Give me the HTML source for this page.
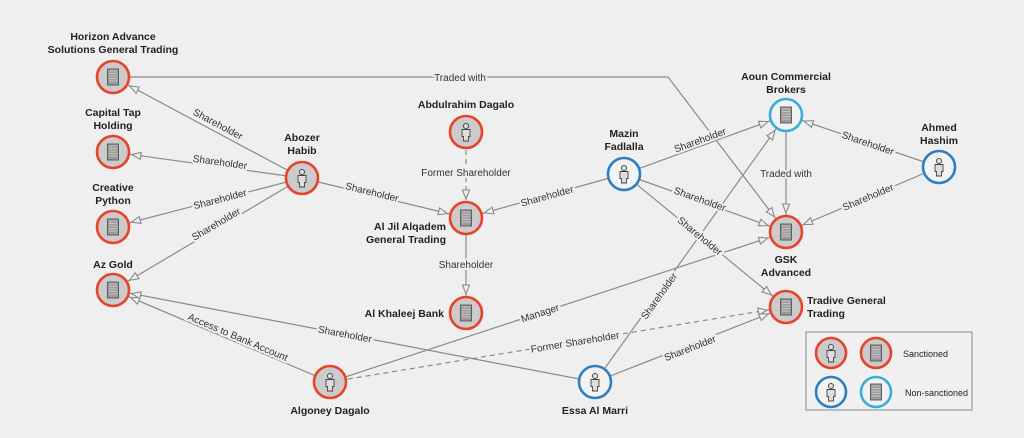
<!DOCTYPE html>
<html><head><meta charset="utf-8"><style>
html,body{margin:0;padding:0;background:#efefef;}
svg{display:block;}
.e{stroke:#8a8a8a;stroke-width:1.2;fill:none;}
.d{stroke-dasharray:5,4;}
.l{font-family:"Liberation Sans",sans-serif;font-size:10px;fill:#333;text-anchor:middle;stroke:#efefef;stroke-width:4;paint-order:stroke;}
.n{font-family:"Liberation Sans",sans-serif;font-size:10.5px;font-weight:bold;fill:#222;text-anchor:middle;}
.sr{fill:#cbcbcb;stroke:#e8432a;stroke-width:2.6;}
.nb{fill:#f2f2f2;stroke:#2e7fc1;stroke-width:2.6;}
.nl{fill:#f2f2f2;stroke:#3aaed8;stroke-width:2.6;}
</style></head><body>
<svg width="1024" height="438" viewBox="0 0 1024 438" xmlns="http://www.w3.org/2000/svg">
<defs>
<marker id="a" markerUnits="userSpaceOnUse" markerWidth="60" markerHeight="60" refX="19" refY="0" orient="auto" overflow="visible">
<path d="M-9,-3.5 L0,0 L-9,3.5 Z" fill="#efefef" stroke="#8a8a8a" stroke-width="1.1" stroke-dasharray="none"/>
</marker>
<g id="bld"><rect x="-5.5" y="-8" width="11" height="16" fill="#9a9a9a" stroke="#555" stroke-width="0.9"/>
<path d="M-3.5,-6h7M-3.5,-3.5h7M-3.5,-1h7M-3.5,1.5h7M-3.5,4h7" stroke="#eee" stroke-width="1" stroke-dasharray="1,1"/></g>
<g id="per"><circle cx="0" cy="-6" r="2.6" fill="#ddd" stroke="#444" stroke-width="0.9"/>
<path d="M-4,-2.5h8v7h-1.5v4.5h-5v-4.5h-1.5z" fill="#ddd" stroke="#444" stroke-width="0.9"/></g>
</defs>
<rect width="1024" height="438" fill="#efefef"/>

<polyline class="e" points="113,77 668,77 786,232" marker-end="url(#a)"/>
<line class="e" x1="302" y1="178" x2="113" y2="77" marker-end="url(#a)"/>
<line class="e" x1="302" y1="178" x2="113" y2="152" marker-end="url(#a)"/>
<line class="e" x1="302" y1="178" x2="113" y2="227" marker-end="url(#a)"/>
<line class="e" x1="302" y1="178" x2="113" y2="290" marker-end="url(#a)"/>
<line class="e" x1="302" y1="178" x2="466" y2="218" marker-end="url(#a)"/>
<line class="e d" x1="466" y1="132" x2="466" y2="218" marker-end="url(#a)"/>
<line class="e" x1="466" y1="218" x2="466" y2="313" marker-end="url(#a)"/>
<line class="e" x1="624" y1="174" x2="466" y2="218" marker-end="url(#a)"/>
<line class="e" x1="624" y1="174" x2="786" y2="115" marker-end="url(#a)"/>
<line class="e" x1="624" y1="174" x2="786" y2="232" marker-end="url(#a)"/>
<line class="e" x1="624" y1="174" x2="786" y2="307" marker-end="url(#a)"/>
<line class="e" x1="786" y1="115" x2="786" y2="232" marker-end="url(#a)"/>
<line class="e" x1="939" y1="167" x2="786" y2="115" marker-end="url(#a)"/>
<line class="e" x1="939" y1="167" x2="786" y2="232" marker-end="url(#a)"/>
<line class="e" x1="330" y1="382" x2="113" y2="290" marker-end="url(#a)"/>
<line class="e" x1="330" y1="382" x2="786" y2="232" marker-end="url(#a)"/>
<line class="e d" x1="330" y1="382" x2="786" y2="307" marker-end="url(#a)"/>
<line class="e" x1="595" y1="382" x2="113" y2="290" marker-end="url(#a)"/>
<line class="e" x1="595" y1="382" x2="786" y2="115" marker-end="url(#a)"/>
<line class="e" x1="595" y1="382" x2="786" y2="307" marker-end="url(#a)"/>

<text class="l" x="460" y="81">Traded with</text>
<text class="l" transform="translate(218,124) rotate(28)" y="3.5">Shareholder</text>
<text class="l" transform="translate(220,162) rotate(7.8)" y="3.5">Shareholder</text>
<text class="l" transform="translate(220,199) rotate(-14.5)" y="3.5">Shareholder</text>
<text class="l" transform="translate(216,224) rotate(-30.6)" y="3.5">Shareholder</text>
<text class="l" transform="translate(372,192) rotate(13.8)" y="3.5">Shareholder</text>
<text class="l" x="466" y="176">Former Shareholder</text>
<text class="l" x="466" y="268">Shareholder</text>
<text class="l" transform="translate(547,196) rotate(-15.5)" y="3.5">Shareholder</text>
<text class="l" transform="translate(700,140) rotate(-20)" y="3.5">Shareholder</text>
<text class="l" transform="translate(700,199) rotate(19.7)" y="3.5">Shareholder</text>
<text class="l" transform="translate(700,236) rotate(39.4)" y="3.5">Shareholder</text>
<text class="l" x="786" y="177">Traded with</text>
<text class="l" transform="translate(868,143) rotate(18.8)" y="3.5">Shareholder</text>
<text class="l" transform="translate(868,197) rotate(-23)" y="3.5">Shareholder</text>
<text class="l" transform="translate(238,337) rotate(23)" y="3.5">Access to Bank Account</text>
<text class="l" transform="translate(540,313) rotate(-18.2)" y="3.5">Manager</text>
<text class="l" transform="translate(575,342) rotate(-9.3)" y="3.5">Former Shareholder</text>
<text class="l" transform="translate(345,334) rotate(10.8)" y="3.5">Shareholder</text>
<text class="l" transform="translate(659,296) rotate(-54.4)" y="3.5">Shareholder</text>
<text class="l" transform="translate(690,348) rotate(-21.4)" y="3.5">Shareholder</text>

<g transform="translate(113,77)"><circle r="16" class="sr"/><use href="#bld"/></g>
<g transform="translate(113,152)"><circle r="16" class="sr"/><use href="#bld"/></g>
<g transform="translate(113,227)"><circle r="16" class="sr"/><use href="#bld"/></g>
<g transform="translate(113,290)"><circle r="16" class="sr"/><use href="#bld"/></g>
<g transform="translate(302,178)"><circle r="16" class="sr"/><use href="#per"/></g>
<g transform="translate(466,132)"><circle r="16" class="sr"/><use href="#per"/></g>
<g transform="translate(466,218)"><circle r="16" class="sr"/><use href="#bld"/></g>
<g transform="translate(466,313)"><circle r="16" class="sr"/><use href="#bld"/></g>
<g transform="translate(624,174)"><circle r="16" class="nb"/><use href="#per"/></g>
<g transform="translate(786,115)"><circle r="16" class="nl"/><use href="#bld"/></g>
<g transform="translate(939,167)"><circle r="16" class="nb"/><use href="#per"/></g>
<g transform="translate(786,232)"><circle r="16" class="sr"/><use href="#bld"/></g>
<g transform="translate(786,307)"><circle r="16" class="sr"/><use href="#bld"/></g>
<g transform="translate(330,382)"><circle r="16" class="sr"/><use href="#per"/></g>
<g transform="translate(595,382)"><circle r="16" class="nb"/><use href="#per"/></g>

<text class="n" x="113" y="40">Horizon Advance</text>
<text class="n" x="113" y="53">Solutions General Trading</text>
<text class="n" x="113" y="116">Capital Tap</text>
<text class="n" x="113" y="129">Holding</text>
<text class="n" x="113" y="191">Creative</text>
<text class="n" x="113" y="204">Python</text>
<text class="n" x="113" y="268">Az Gold</text>
<text class="n" x="302" y="141">Abozer</text>
<text class="n" x="302" y="154">Habib</text>
<text class="n" x="466" y="108">Abdulrahim Dagalo</text>
<text class="n" x="446" y="230" style="text-anchor:end">Al Jil Alqadem</text>
<text class="n" x="446" y="243" style="text-anchor:end">General Trading</text>
<text class="n" x="444" y="317" style="text-anchor:end">Al Khaleej Bank</text>
<text class="n" x="624" y="137">Mazin</text>
<text class="n" x="624" y="150">Fadlalla</text>
<text class="n" x="786" y="80">Aoun Commercial</text>
<text class="n" x="786" y="93">Brokers</text>
<text class="n" x="939" y="131">Ahmed</text>
<text class="n" x="939" y="144">Hashim</text>
<text class="n" x="786" y="263">GSK</text>
<text class="n" x="786" y="276">Advanced</text>
<text class="n" x="807" y="304" style="text-anchor:start">Tradive General</text>
<text class="n" x="807" y="317" style="text-anchor:start">Trading</text>
<text class="n" x="330" y="414">Algoney Dagalo</text>
<text class="n" x="595" y="414">Essa Al Marri</text>

<rect x="806" y="332" width="166" height="78" fill="#f0f0f0" stroke="#8a8a8a" stroke-width="1"/>
<g transform="translate(831,353)"><circle r="15" class="sr"/><use href="#per"/></g>
<g transform="translate(876,353)"><circle r="15" class="sr"/><use href="#bld"/></g>
<g transform="translate(831,392)"><circle r="15" class="nb"/><use href="#per"/></g>
<g transform="translate(876,392)"><circle r="15" class="nl"/><use href="#bld"/></g>
<text x="903" y="357" font-family="Liberation Sans, sans-serif" font-size="9" fill="#222">Sanctioned</text>
<text x="905" y="396" font-family="Liberation Sans, sans-serif" font-size="9" fill="#222">Non-sanctioned</text>
</svg>
</body></html>
